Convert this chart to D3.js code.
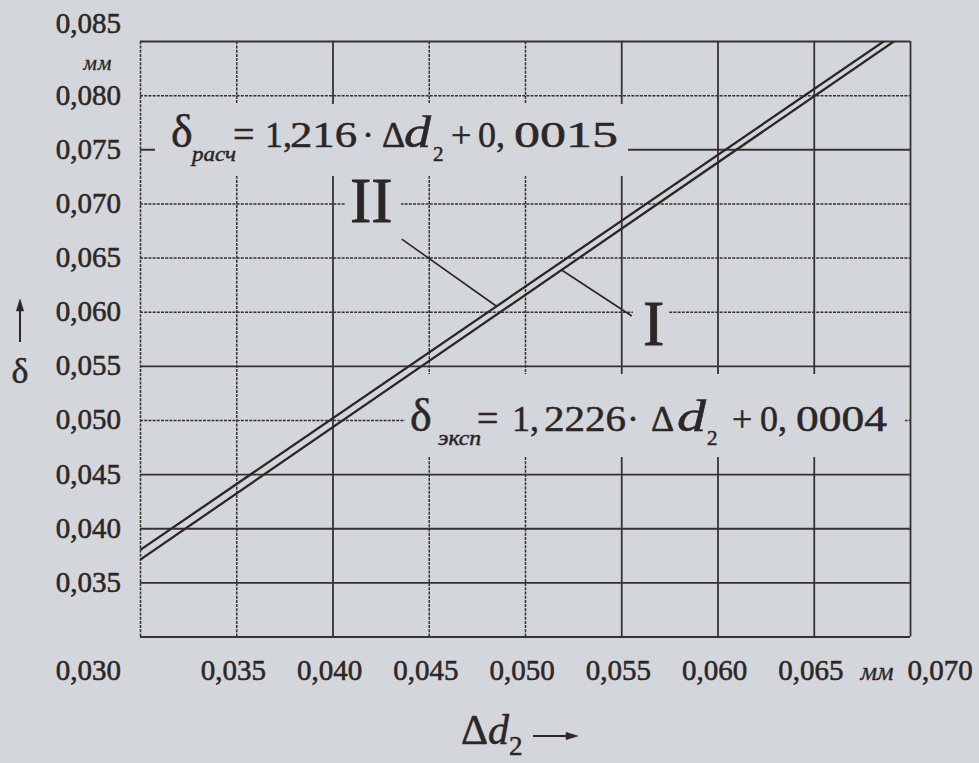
<!DOCTYPE html>
<html>
<head>
<meta charset="utf-8">
<script src="https://cdn.jsdelivr.net/npm/d3@7"></script>
<style>
  html, body { margin: 0; padding: 0; background: #d3d6da; }
  svg { display: block; }
</style>
</head>
<body>
<svg id="chart" width="979" height="763"></svg>
<script>
// ---- data ----
const deltaD2Ticks = [0.030, 0.035, 0.040, 0.045, 0.050, 0.055, 0.060, 0.065, 0.070]; // Δd2, мм
const deltaTicks = [0.030, 0.035, 0.040, 0.045, 0.050, 0.055, 0.060, 0.065, 0.070, 0.075, 0.080, 0.085]; // δ, мм
const lineIds = ["II", "I"];
const lineNames = ["расч", "эксп"];
const slopes = [1.216, 1.2226];
const intercepts = [0.0015, 0.0004];
const unitLabel = "мм";

// ---- look ----
const paper = "#d3d6da";
const ink = "#2c2724";
const gridInk = "#38322f";
const solidX = new Set([0.040, 0.055, 0.060, 0.065, 0.070]);
const solidY = new Set([0.030, 0.035, 0.040, 0.045, 0.055, 0.075, 0.085]);
const serif = "'Liberation Serif', 'Times New Roman', serif";

const svg = d3.select("#chart");
svg.append("rect").attr("width", 979).attr("height", 763).attr("fill", paper);

const x = d3.scaleLinear().domain([0.030, 0.070]).range([140, 910]);
const y = d3.scaleLinear().domain([0.030, 0.085]).range([636.5, 41]);
const [x0, x1] = x.range();
const [yB, yT] = y.range();
const key = v => v.toFixed(3);
const isIn = (set, v) => [...set].some(s => key(s) === key(v));
const fmt = v => d3.format(".3f")(v).replace(".", ",");

// ---- grid from axes ----
function styleGrid(sel, solid) {
  sel.select(".domain").remove();
  sel.selectAll(".tick line")
    .attr("stroke", gridInk)
    .attr("stroke-width", d => isIn(solid, d) ? 1.8 : 1.5)
    .attr("stroke-dasharray", d => isIn(solid, d) ? null : "3,1.2");
}
svg.append("g").attr("transform", `translate(0,${yB})`)
  .call(d3.axisBottom(x).tickValues(deltaD2Ticks).tickSize(-(yB - yT)).tickFormat(""))
  .call(styleGrid, solidX);
svg.append("g").attr("transform", `translate(${x0},0)`)
  .call(d3.axisLeft(y).tickValues(deltaTicks).tickSize(-(x1 - x0)).tickFormat(""))
  .call(styleGrid, solidY);

// knock-outs behind the labels written on the grid
const knock = [
  [155, 104, 628, 176],  // формула расч
  [345, 176, 401, 227],  // II
  [633, 296, 668, 350],  // I
  [405, 374, 905, 457]   // формула эксп
];
svg.append("g").selectAll("rect").data(knock).join("rect")
  .attr("x", d => d[0]).attr("y", d => d[1])
  .attr("width", d => d[2] - d[0]).attr("height", d => d[3] - d[1])
  .attr("fill", paper);

// ---- the two straight lines ----
svg.append("clipPath").attr("id", "plot")
  .append("rect").attr("x", x0).attr("y", yT).attr("width", x1 - x0).attr("height", yB - yT);

const lineGen = d3.line().x(d => x(d[0])).y(d => y(d[1]));
const domainX = x.domain();
svg.append("g").attr("clip-path", "url(#plot)")
  .selectAll("path").data(lineIds).join("path")
  .attr("d", (id, i) => lineGen(domainX.map(v => [v, slopes[i] * v + intercepts[i]])))
  .attr("fill", "none").attr("stroke", ink).attr("stroke-width", 2.3);

// leaders from the roman numerals to their lines
const leaderStart = [[0.04360, 0.06670], [0.05555, 0.05960]];
const leaderEndX = [0.04852, 0.05190];
svg.append("g").selectAll("line").data(lineIds).join("line")
  .attr("x1", (d, i) => x(leaderStart[i][0])).attr("y1", (d, i) => y(leaderStart[i][1]))
  .attr("x2", (d, i) => x(leaderEndX[i]))
  .attr("y2", (d, i) => y(slopes[i] * leaderEndX[i] + intercepts[i]))
  .attr("stroke", ink).attr("stroke-width", 1.6);

// roman numerals
const numeralPos = [[0.04091, 0.06828], [0.05613, 0.05692]];
svg.append("g").selectAll("text").data(lineIds).join("text")
  .attr("x", (d, i) => x(numeralPos[i][0])).attr("y", (d, i) => y(numeralPos[i][1]))
  .attr("font-family", serif).attr("font-size", 64).attr("fill", ink)
  .attr("stroke", ink).attr("stroke-width", 0.8)
  .text(d => d);

// ---- tick labels ----
const labels = svg.append("g").attr("font-family", serif).attr("font-size", 29)
  .attr("fill", ink).attr("stroke", ink).attr("stroke-width", 0.55);
labels.selectAll("text.y").data(deltaTicks.filter(v => v > 0.030)).join("text")
  .attr("class", "y")
  .attr("x", 121).attr("text-anchor", "end")
  .attr("y", d => key(d) === "0.085" ? y(d) - 8 : y(d) + 9.5)
  .text(fmt);
labels.selectAll("text.x").data(deltaD2Ticks).join("text")
  .attr("class", "x")
  .attr("x", d => key(d) === "0.030" ? 121 : key(d) === "0.070" ? x(d) + 30 : x(d) - 3)
  .attr("text-anchor", d => key(d) === "0.030" ? "end" : "middle")
  .attr("y", 680)
  .text(fmt);
labels.append("text").attr("x", 98).attr("y", 70).attr("text-anchor", "middle")
  .attr("font-style", "italic").attr("font-size", 21).attr("stroke-width", 0.3)
  .attr("letter-spacing", 1).text(unitLabel);
labels.append("text").attr("x", 877).attr("y", 680).attr("text-anchor", "middle")
  .attr("font-style", "italic").attr("font-size", 26).attr("stroke-width", 0.3).text(unitLabel);

// ---- axis titles ----
const titles = svg.append("g").attr("font-family", serif).attr("fill", ink)
  .attr("stroke", ink).attr("stroke-width", 0.5);
titles.append("text").attr("x", 20).attr("y", 383).attr("text-anchor", "middle")
  .attr("font-size", 36).text("δ");
titles.append("line").attr("x1", 20).attr("y1", 342).attr("x2", 20).attr("y2", 308)
  .attr("stroke-width", 2);
titles.append("path").attr("d", "M20,299 L16.3,311 L23.7,311 Z");

const xt = titles.append("text").attr("x", 461).attr("y", 744).attr("font-size", 42);
xt.append("tspan").text("Δ");
xt.append("tspan").attr("font-style", "italic").text("d");
xt.append("tspan").attr("font-size", 27).attr("dy", 11).text("2");
titles.append("line").attr("x1", 533).attr("y1", 736).attr("x2", 570).attr("y2", 736)
  .attr("stroke-width", 2);
titles.append("path").attr("d", "M578,736 L566,732.3 L566,739.7 Z");

// ---- regression formulas ----
function formula(i, p) {
  const g = svg.append("g").attr("font-family", serif).attr("fill", ink)
    .attr("stroke", ink).attr("stroke-width", 0.5);
  const put = (txt, px, py, size, opts = {}) => {
    const t = g.append("text").attr("x", px).attr("y", py).attr("font-size", size).text(txt);
    if (opts.italic) t.attr("font-style", "italic");
    if (opts.len) t.attr("textLength", opts.len).attr("lengthAdjust", "spacingAndGlyphs");
    return t;
  };
  const [slopeInt, slopeFrac] = String(slopes[i]).split(".");
  const [icptInt, icptFrac] = String(intercepts[i]).split(".");
  const b = p.base, s = p.base + 14;
  put("δ", p.delta, b, 46);
  put(lineNames[i], p.sub, s, 22, { italic: true, len: p.subLen });
  put("=", p.eq, b, 38);
  put(slopeInt + ",", p.k0, b, 36);
  put(slopeFrac, p.k1, b, 36, { len: p.k1Len });
  put("·", p.dot, b, 36);
  put("Δ", p.D, b, 36);
  put("d", p.d, b, 44, { italic: true, len: p.dLen });
  put("2", p.two, s, 21);
  put("+", p.plus, b, 36);
  put(icptInt + ",", p.c0, b, 36);
  put(icptFrac, p.c1, b, 36, { len: p.c1Len });
}
formula(0, { base: 147, delta: 171, sub: 192, subLen: 44, eq: 233, k0: 265, k1: 290, k1Len: 67,
  dot: 362, D: 382, d: 404, dLen: 27, two: 433, plus: 451, c0: 478, c1: 514, c1Len: 104 });
formula(1, { base: 431, delta: 410, sub: 438, subLen: 43, eq: 477, k0: 512, k1: 544, k1Len: 82,
  dot: 627, D: 651, d: 677, dLen: 29, two: 707, plus: 732, c0: 760, c1: 796, c1Len: 91 });
</script>
</body>
</html>
